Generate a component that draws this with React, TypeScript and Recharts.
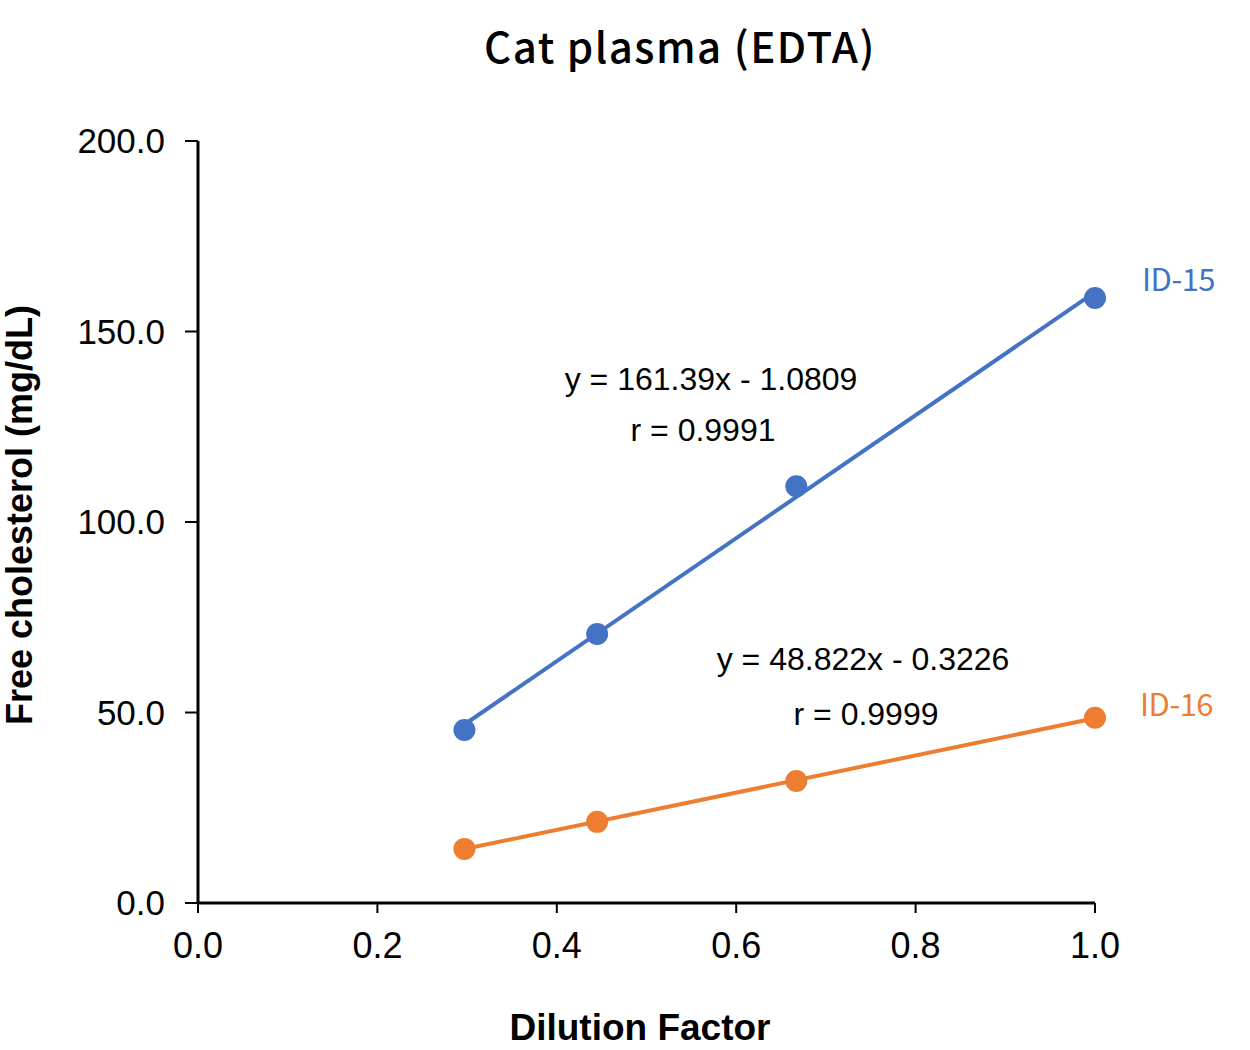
import React from 'react';
import { ComposedChart, Scatter, XAxis, YAxis } from 'recharts';

const dilution = [0.297, 0.445, 0.667, 1.0];
const id15Values = [45.4, 70.6, 109.4, 158.8];
const id16Values = [14.2, 21.3, 32.0, 48.6];

const xTicks = [0, 0.2, 0.4, 0.6, 0.8, 1.0];
const yTicks = [0, 50, 100, 150, 200];

// fitted regression for each sample
const fit15 = { slope: 161.39, intercept: -1.0809, r: 0.9991 };
const fit16 = { slope: 48.822, intercept: -0.3226, r: 0.9999 };

const BLUE = '#4472C4';
const ORANGE = '#ED7D31';

const toPoints = (ys: number[]) => dilution.map((x, i) => ({ x, y: ys[i] }));
const trend = (f: { slope: number; intercept: number }) => {
  const x0 = dilution[0];
  const x1 = dilution[dilution.length - 1];
  return [
    { x: x0, y: f.slope * x0 + f.intercept },
    { x: x1, y: f.slope * x1 + f.intercept },
  ];
};

const eq = (f: { slope: number; intercept: number }) =>
  `y = ${f.slope}x - ${Math.abs(f.intercept)}`;

const Dot = (color: string) => (props: any) => (
  <circle cx={props.cx} cy={props.cy} r={11} fill={color} />
);

const NoDot = () => null;

const numFont = '"Liberation Sans", Arial, sans-serif';
const jpFont = '"Noto Sans CJK JP", "Noto Sans", sans-serif';

const abs = (extra: React.CSSProperties): React.CSSProperties => ({
  position: 'absolute',
  whiteSpace: 'nowrap',
  lineHeight: 1,
  ...extra,
});

export default function App() {
  return (
    <div style={{ position: 'absolute', left: 0, top: 0, width: 1250, height: 1050, background: '#fff' }}>
      <ComposedChart
        width={1250}
        height={1050}
        margin={{ top: 141, right: 155, bottom: 87, left: 0 }}
      >
        <XAxis
          dataKey="x"
          type="number"
          domain={[0, 1]}
          ticks={xTicks}
          tickFormatter={(v: number) => v.toFixed(1)}
          axisLine={{ stroke: '#000', strokeWidth: 3 }}
          tickLine={{ stroke: '#000', strokeWidth: 2 }}
          tickSize={10}
          tickMargin={19}
          height={60}
          tick={{ fill: '#000', fontSize: 36, fontFamily: numFont }}
        />
        <YAxis
          dataKey="y"
          type="number"
          domain={[0, 200]}
          ticks={yTicks}
          tickFormatter={(v: number) => v.toFixed(1)}
          axisLine={{ stroke: '#000', strokeWidth: 3 }}
          tickLine={{ stroke: '#000', strokeWidth: 2 }}
          tickSize={13}
          tickMargin={20}
          width={198}
          tick={{ fill: '#000', fontSize: 35, fontFamily: numFont }}
        />
        <Scatter data={trend(fit15)} line={{ stroke: BLUE, strokeWidth: 4 }} shape={NoDot} isAnimationActive={false} />
        <Scatter data={trend(fit16)} line={{ stroke: ORANGE, strokeWidth: 4 }} shape={NoDot} isAnimationActive={false} />
        <Scatter data={toPoints(id15Values)} fill={BLUE} shape={Dot(BLUE)} isAnimationActive={false} />
        <Scatter data={toPoints(id16Values)} fill={ORANGE} shape={Dot(ORANGE)} isAnimationActive={false} />
      </ComposedChart>

      <div style={abs({ left: 0, width: 1360, top: 24, textAlign: 'center', fontFamily: jpFont, fontSize: 42, fontWeight: 500, letterSpacing: 1.5, color: '#000' })}>
        Cat plasma (EDTA)
      </div>

      <div style={abs({ left: 1142, top: 262, fontFamily: jpFont, fontSize: 31, letterSpacing: -0.5, color: BLUE })}>ID-15</div>
      <div style={abs({ left: 1140, top: 687, fontFamily: jpFont, fontSize: 31, letterSpacing: -0.5, color: ORANGE })}>ID-16</div>

      <div style={abs({ left: 511, width: 400, top: 363, textAlign: 'center', fontFamily: numFont, fontSize: 32, color: '#000' })}>
        {eq(fit15)}
      </div>
      <div style={abs({ left: 503, width: 400, top: 414, textAlign: 'center', fontFamily: numFont, fontSize: 32, color: '#000' })}>
        r = {fit15.r}
      </div>
      <div style={abs({ left: 663, width: 400, top: 643, textAlign: 'center', fontFamily: numFont, fontSize: 32, color: '#000' })}>
        {eq(fit16)}
      </div>
      <div style={abs({ left: 666, width: 400, top: 698, textAlign: 'center', fontFamily: numFont, fontSize: 32, color: '#000' })}>
        r = {fit16.r}
      </div>

      <div style={abs({ left: 440, width: 400, top: 1009, textAlign: 'center', fontFamily: numFont, fontSize: 37, fontWeight: 700, color: '#000' })}>
        Dilution Factor
      </div>
      <div
        style={abs({
          left: 20,
          top: 515,
          transform: 'translate(-50%, -50%) rotate(-90deg)',
          fontFamily: numFont,
          fontSize: 36,
          fontWeight: 700,
          color: '#000',
        })}
      >
        Free cholesterol (mg/dL)
      </div>
    </div>
  );
}
